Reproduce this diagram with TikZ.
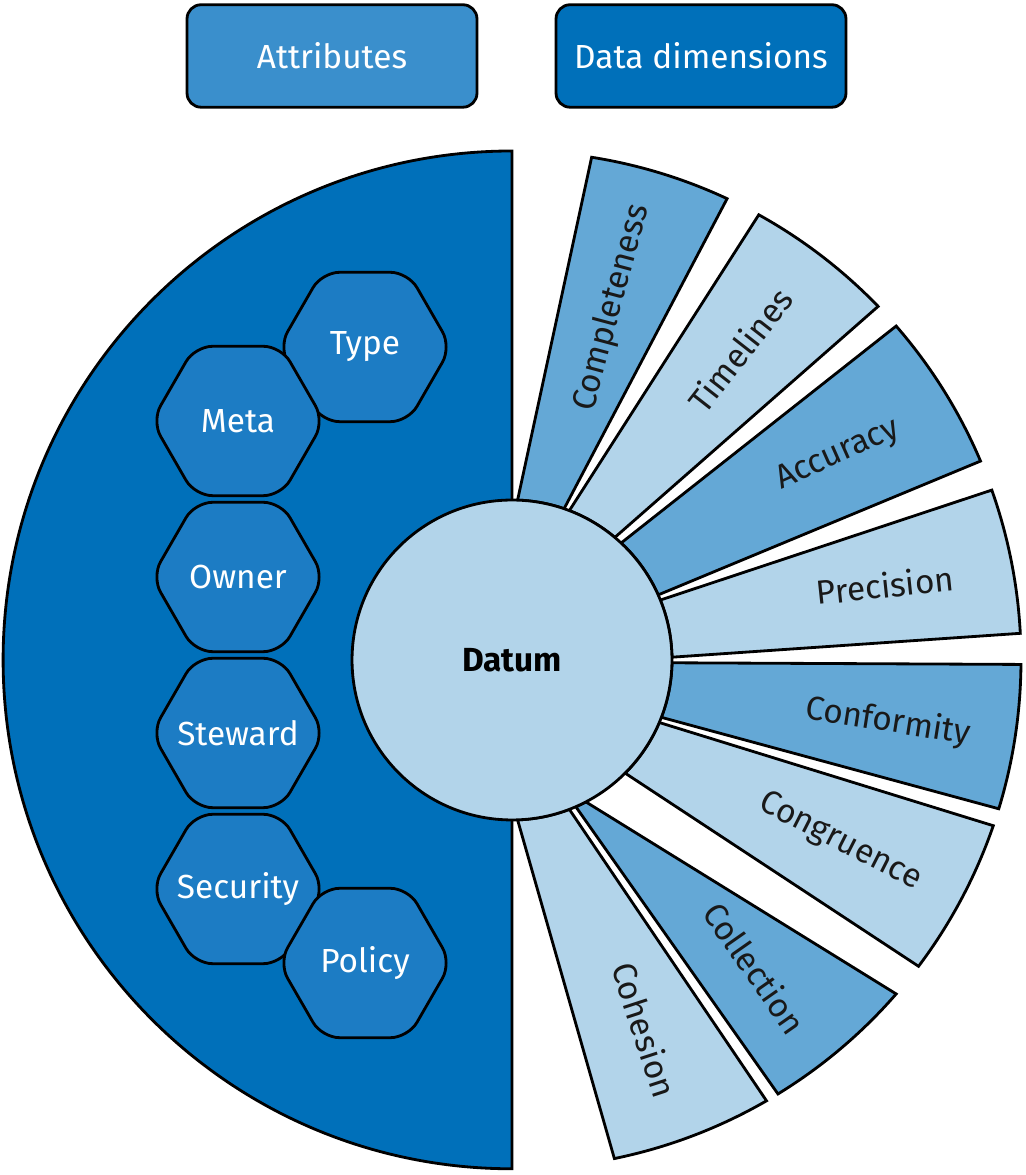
\documentclass[tikz,border=0pt]{standalone}
\usepackage{fontspec}
\setmainfont{Fira Sans}
\usetikzlibrary{shapes.geometric,calc}
\definecolor{dark}{HTML}{0070BA}
\definecolor{mid}{HTML}{64A8D6}
\definecolor{light}{HTML}{B2D4EA}
\definecolor{hexc}{HTML}{1C7CC4}
\definecolor{attr}{HTML}{3A8FCC}
\newcommand{\hexlbl}[1]{\makebox[0pt]{#1}}
\begin{document}
\begin{tikzpicture}[x=0.02cm,y=0.02cm,line width=1.6pt,
  box/.style={draw=black,rounded corners=8pt,minimum width=5.8cm,minimum height=2.05cm,text=white,font=\fontsize{19}{22}\selectfont},
  hexa/.style={draw=black,fill=hexc,regular polygon,regular polygon sides=6,minimum size=3.45cm,rounded corners=10pt,text=white,font=\fontsize{19}{22}\selectfont,inner sep=0pt},
  lbl/.style={text=black!90,font=\fontsize{19}{22}\selectfont}]
\useasboundingbox (0,0) rectangle (1025,1175);
\coordinate (C) at (512,515);
% top legend boxes
\node[box,fill=attr] (attrbox) at (332,1119) {Attributes};
\node[box,fill=dark] (dimbox) at (701,1119) {Data dimensions};
% left half disc
\draw[fill=dark] (512,1024) arc[start angle=90,end angle=270,radius=10.18cm] -- cycle;
% wedges: inner a, inner b, outer c, outer d, colour
\foreach \a/\b/\c/\d/\col in {88/71/81/65/mid, 69/50/61/44/light, 47/24/41/23/mid,
  22/1/19.5/3/light, -1/-21/-0.5/-17/mid, -23/-45/-19/-37/light,
  -62.5/-66.5/-41/-58.5/mid, -69/-88/-60/-78.4/light}{
  \draw[fill=\col] ($(C)+(\a:160)$) -- ($(C)+(\c:509)$)
    arc[start angle=\c,end angle=\d,radius=10.18cm] -- ($(C)+(\b:160)$)
    arc[start angle=\b,end angle=\a,radius=3.2cm] -- cycle;
}
% datum
\node[circle,draw=black,fill=light,minimum size=6.4cm,font=\bfseries\fontsize{19}{22}\selectfont] (datum) at (C) {Datum};
% wedge labels
\node[lbl,rotate=75] (l1) at (612,867) {Completeness};
\node[lbl,rotate=52] (l2) at (740,825) {Timelines};
\node[lbl,rotate=24] (l3) at (838,720) {Accuracy};
\node[lbl,rotate=6] (l4) at (885,590) {Precision};
\node[lbl,rotate=-9] (l5) at (888,453) {Conformity};
\node[lbl,rotate=-27] (l6) at (840,333) {Congruence};
\node[lbl,rotate=-55] (l7) at (755,207) {Collection};
\node[lbl,rotate=-72] (l8) at (645,145) {Cohesion};
% hexagons
\node[hexa] (type) at (365,828) {\hexlbl{Type}};
\node[hexa] (meta) at (238,754) {\hexlbl{Meta}};
\node[hexa] (owner) at (238,598) {\hexlbl{Owner}};
\node[hexa] (steward) at (238,442) {\hexlbl{Steward}};
\node[hexa] (security) at (238,286) {\hexlbl{Security}};
\node[hexa] (policy) at (365,212) {\hexlbl{Policy}};
\end{tikzpicture}
\end{document}
